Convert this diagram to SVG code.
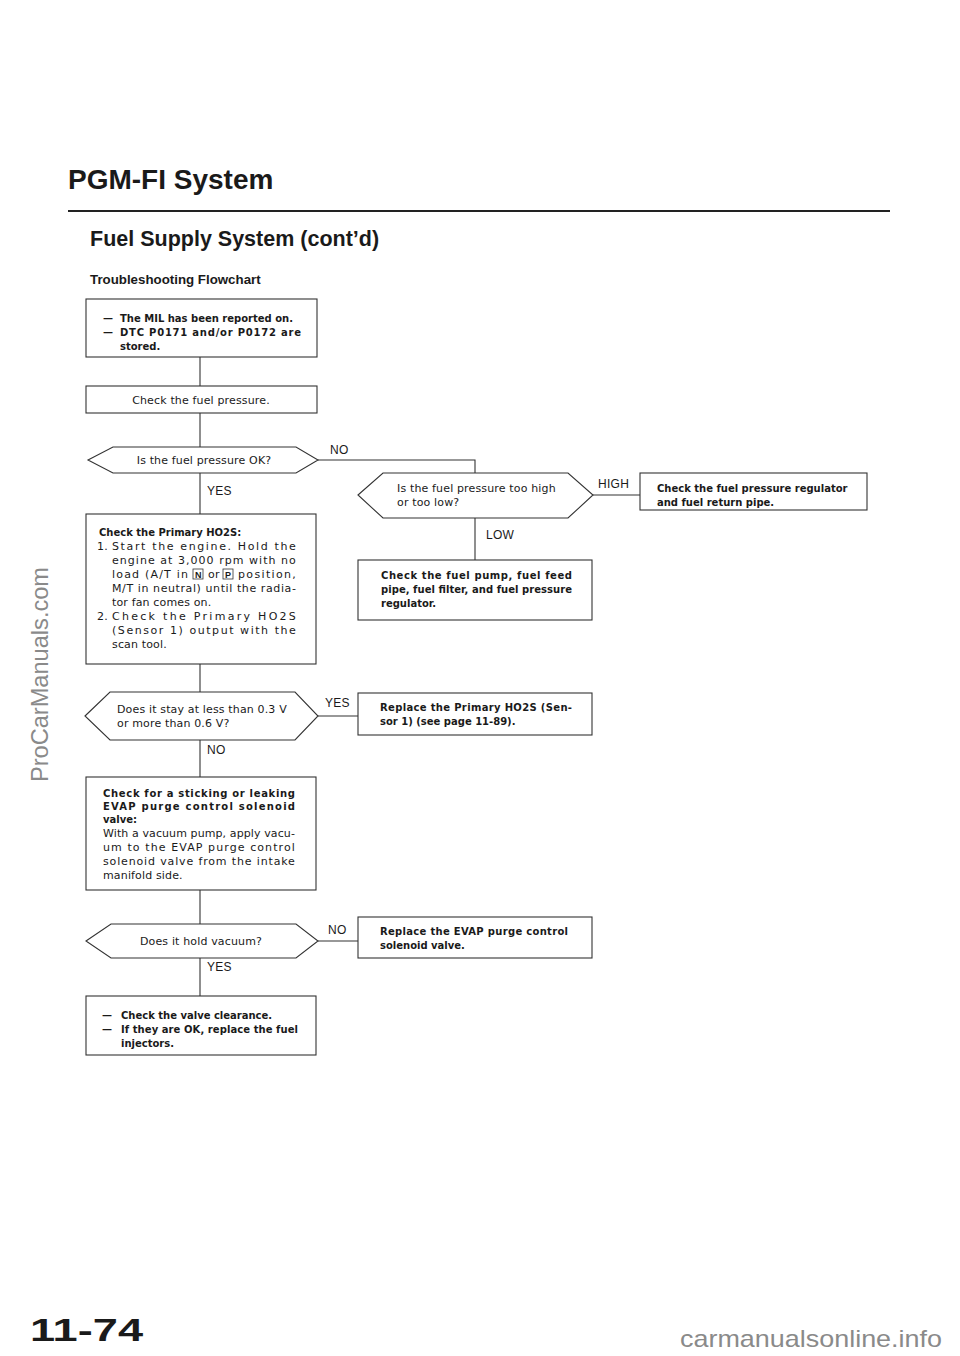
<svg xmlns="http://www.w3.org/2000/svg" width="960" height="1356" viewBox="0 0 960 1356">
<style>
text{font-family:"Liberation Sans",Arial,sans-serif;fill:#1a1a1a}
.t{font-family:"DejaVu Sans","Liberation Sans",sans-serif;font-size:11px;letter-spacing:0.15px}
.t.b{font-weight:bold;font-size:10px;letter-spacing:0}
.lbl{font-size:12px;letter-spacing:0.3px}
.box{fill:none;stroke:#333;stroke-width:1.1}
.con line,.con polyline{stroke:#333;stroke-width:1.1;fill:none}
.wm{fill:#8a8a8a;font-size:24px}
</style>
<rect width="960" height="1356" fill="#fff"/>
<g id="header">
<text x="68" y="189" font-weight="bold" font-size="28">PGM-FI System</text>
<line x1="68" y1="211" x2="890" y2="211" stroke="#222" stroke-width="2"/>
<text x="90" y="246" font-weight="bold" font-size="21.5">Fuel Supply System (cont’d)</text>
<text x="90" y="284" font-weight="bold" font-size="13.3">Troubleshooting Flowchart</text>
</g>
<g class="con" id="connectors">
<line x1="200" y1="357" x2="200" y2="386"/>
<line x1="200" y1="413" x2="200" y2="447"/>
<polyline points="318,460 475,460 475,473"/>
<line x1="200" y1="473" x2="200" y2="514"/>
<line x1="475" y1="518" x2="475" y2="560"/>
<line x1="593" y1="495" x2="640" y2="495"/>
<line x1="200" y1="664" x2="200" y2="692"/>
<line x1="318" y1="716" x2="358" y2="716"/>
<line x1="200" y1="740" x2="200" y2="777"/>
<line x1="200" y1="890" x2="200" y2="924"/>
<line x1="318" y1="941" x2="358" y2="941"/>
<line x1="200" y1="958" x2="200" y2="996"/>
</g>
<g id="labels" class="lbl">
<text x="330" y="454">NO</text>
<text x="207" y="495">YES</text>
<text x="598" y="488">HIGH</text>
<text x="486" y="539">LOW</text>
<text x="325" y="707">YES</text>
<text x="207" y="754">NO</text>
<text x="328" y="934">NO</text>
<text x="207" y="971">YES</text>
</g>
<g id="n1">
<rect class="box" x="86" y="299" width="231" height="58"/>
<text class="t b" x="103" y="322">—</text><text class="t b" x="120" y="322">The MIL has been reported on.</text>
<text class="t b" x="103" y="336">—</text><text class="t b" x="120" y="336" textLength="181" lengthAdjust="spacing">DTC P0171 and/or P0172 are</text>
<text class="t b" x="120" y="350">stored.</text>
</g>
<g id="n2">
<rect class="box" x="86" y="386" width="231" height="27"/>
<text class="t" x="201" y="404" text-anchor="middle">Check the fuel pressure.</text>
</g>
<g id="d1">
<polygon class="box" points="88,460 113,447 296,447 318,460 296,473 113,473"/>
<text class="t" x="204" y="464" text-anchor="middle">Is the fuel pressure OK?</text>
</g>
<g id="d2">
<polygon class="box" points="358,495 383,473 568,473 593,495 568,518 383,518"/>
<text class="t" x="397" y="492">Is the fuel pressure too high</text>
<text class="t" x="397" y="506">or too low?</text>
</g>
<g id="n4">
<rect class="box" x="640" y="473" width="227" height="37"/>
<text class="t b" x="657" y="492">Check the fuel pressure regulator</text>
<text class="t b" x="657" y="506">and fuel return pipe.</text>
</g>
<g id="n3">
<rect class="box" x="358" y="560" width="234" height="60"/>
<text class="t b" x="381" y="579" textLength="191" lengthAdjust="spacing">Check the fuel pump, fuel feed</text>
<text class="t b" x="381" y="593" textLength="191" lengthAdjust="spacing">pipe, fuel filter, and fuel pressure</text>
<text class="t b" x="381" y="607">regulator.</text>
</g>
<g id="n5">
<rect class="box" x="86" y="514" width="230" height="150"/>
<text class="t b" x="99" y="536">Check the Primary HO2S:</text>
<text class="t" x="97" y="550">1.</text><text class="t" x="112" y="550" textLength="184" lengthAdjust="spacing">Start the engine. Hold the</text>
<text class="t" x="112" y="564" textLength="184" lengthAdjust="spacing">engine at 3,000 rpm with no</text>
<text class="t" x="112" y="578" textLength="76" lengthAdjust="spacing">load (A/T in</text>
<rect x="193" y="569" width="10" height="10" fill="none" stroke="#333" stroke-width="0.8"/><text x="195" y="578" font-size="9" font-weight="bold">N</text>
<text class="t" x="208" y="578">or</text>
<rect x="223" y="569" width="10" height="10" fill="none" stroke="#333" stroke-width="0.8"/><text x="225" y="578" font-size="9" font-weight="bold">P</text>
<text class="t" x="238" y="578" textLength="58" lengthAdjust="spacing">position,</text>
<text class="t" x="112" y="592" textLength="184" lengthAdjust="spacing">M/T in neutral) until the radia-</text>
<text class="t" x="112" y="606">tor fan comes on.</text>
<text class="t" x="97" y="620">2.</text><text class="t" x="112" y="620" textLength="184" lengthAdjust="spacing">Check the Primary HO2S</text>
<text class="t" x="112" y="634" textLength="184" lengthAdjust="spacing">(Sensor 1) output with the</text>
<text class="t" x="112" y="648">scan tool.</text>
</g>
<g id="d3">
<polygon class="box" points="85,716 110,692 295,692 318,716 295,740 110,740"/>
<text class="t" x="117" y="713">Does it stay at less than 0.3 V</text>
<text class="t" x="117" y="727">or more than 0.6 V?</text>
</g>
<g id="n6">
<rect class="box" x="358" y="693" width="234" height="42"/>
<text class="t b" x="380" y="711" textLength="192" lengthAdjust="spacing">Replace the Primary HO2S (Sen-</text>
<text class="t b" x="380" y="725">sor 1) (see page 11-89).</text>
</g>
<g id="n7">
<rect class="box" x="86" y="777" width="230" height="113"/>
<text class="t b" x="103" y="797" textLength="192" lengthAdjust="spacing">Check for a sticking or leaking</text>
<text class="t b" x="103" y="810" textLength="192" lengthAdjust="spacing">EVAP purge control solenoid</text>
<text class="t b" x="103" y="823">valve:</text>
<text class="t" x="103" y="837" textLength="192" lengthAdjust="spacing">With a vacuum pump, apply vacu-</text>
<text class="t" x="103" y="851" textLength="192" lengthAdjust="spacing">um to the EVAP purge control</text>
<text class="t" x="103" y="865" textLength="192" lengthAdjust="spacing">solenoid valve from the intake</text>
<text class="t" x="103" y="879">manifold side.</text>
</g>
<g id="d4">
<polygon class="box" points="86,941 111,924 296,924 318,941 296,958 111,958"/>
<text class="t" x="201" y="945" text-anchor="middle">Does it hold vacuum?</text>
</g>
<g id="n8">
<rect class="box" x="358" y="917" width="234" height="41"/>
<text class="t b" x="380" y="935" textLength="188" lengthAdjust="spacing">Replace the EVAP purge control</text>
<text class="t b" x="380" y="949">solenoid valve.</text>
</g>
<g id="n9">
<rect class="box" x="86" y="996" width="230" height="59"/>
<text class="t b" x="102" y="1019">—</text><text class="t b" x="121" y="1019">Check the valve clearance.</text>
<text class="t b" x="102" y="1033">—</text><text class="t b" x="121" y="1033" textLength="177" lengthAdjust="spacing">If they are OK, replace the fuel</text>
<text class="t b" x="121" y="1047">injectors.</text>
</g>
<g id="footer">
<text x="30" y="1341" font-weight="bold" font-size="31" textLength="113" lengthAdjust="spacingAndGlyphs">11-74</text>
<text class="wm" x="680" y="1347" textLength="262" lengthAdjust="spacingAndGlyphs">carmanualsonline.info</text>
<text class="wm" transform="translate(48,782) rotate(-90)" textLength="215" lengthAdjust="spacingAndGlyphs">ProCarManuals.com</text>
</g>
</svg>
